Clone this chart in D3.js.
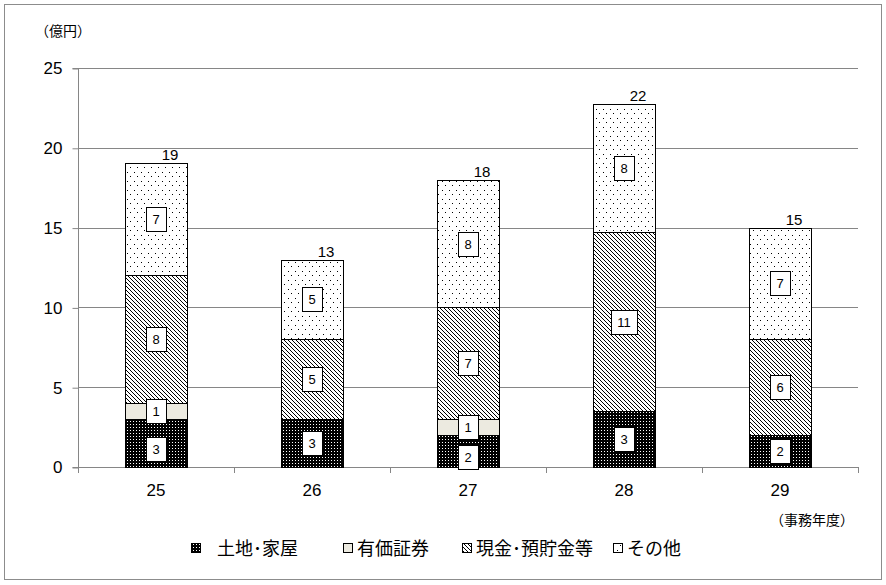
<!DOCTYPE html>
<html><head><meta charset="utf-8">
<script src="https://cdn.jsdelivr.net/npm/d3@7"></script>
<style>
body{margin:0;background:#fff;}
svg{display:block;}
</style></head>
<body>
<svg id="chart" width="886" height="585"></svg>
<script>
const years = ["25","26","27","28","29"];
const land = [3, 3, 2, 3.5, 2];
const securities = [1, 0, 1, 0, 0];
const cash = [8, 5, 7, 11.2, 6];
const other = [7.05, 5, 8, 8.05, 7];
const landLabels = ["3","3","2","3","2"];
const secLabels = ["1","","1","",""];
const cashLabels = ["8","5","7","11","6"];
const otherLabels = ["7","5","8","8","7"];
const totalLabels = ["19","13","18","22","15"];
const yTicks = [0,5,10,15,20,25];
const seriesNames = ["土地･家屋","有価証券","現金･預貯金等","その他"];

const svg = d3.select("#chart");
const numFont = "'Liberation Sans', Arial, sans-serif";
const jpFont = "'Noto Sans CJK JP', sans-serif";

// frame
svg.append("rect").attr("x",4.5).attr("y",4.5).attr("width",877).attr("height",575)
  .attr("fill","#fff").attr("stroke","#8c8c8c").attr("stroke-width",1);

const defs = svg.append("defs");
// land: black with white dots
const pL = defs.append("pattern").attr("id","pLand").attr("patternUnits","userSpaceOnUse")
  .attr("width",3).attr("height",3);
pL.append("rect").attr("width",3).attr("height",3).attr("fill","#000");
pL.append("rect").attr("x",1).attr("y",1).attr("width",1).attr("height",1).attr("fill","#fff");
// cash: pixel diagonal lines (top-left to bottom-right)
const pC = defs.append("pattern").attr("id","pCash").attr("patternUnits","userSpaceOnUse")
  .attr("width",4).attr("height",4);
pC.append("rect").attr("width",4).attr("height",4).attr("fill","#fff");
[0,1,2,3].forEach(k=>pC.append("rect").attr("x",k).attr("y",k).attr("width",1).attr("height",1).attr("fill","#000"));
// other: sparse dots
const pO = defs.append("pattern").attr("id","pOther").attr("patternUnits","userSpaceOnUse")
  .attr("width",7).attr("height",9);
pO.append("rect").attr("width",7).attr("height",9).attr("fill","#fff");
pO.append("rect").attr("x",1).attr("y",1).attr("width",1).attr("height",1).attr("fill","#000");
pO.append("rect").attr("x",4).attr("y",5).attr("width",1).attr("height",1).attr("fill","#000");

const fills = ["url(#pLand)","#ECEAE0","url(#pCash)","url(#pOther)"];

const x0 = 78, x1 = 858, yTop = 68, yBot = 467;
const x = d3.scaleBand().domain(years).range([x0,x1]).paddingInner(0.6).paddingOuter(0.3);
const xb = d3.scaleBand().domain(years).range([x0,x1]);
const y = d3.scaleLinear().domain([0,25]).range([yBot,yTop]);

// gridlines
svg.append("g").selectAll("line").data(yTicks.filter(d=>d>0)).join("line")
  .attr("x1",x0).attr("x2",x1).attr("y1",d=>Math.round(y(d))+0.5).attr("y2",d=>Math.round(y(d))+0.5)
  .attr("stroke","#868686").attr("stroke-width",1);

// y axis
const yAxis = d3.axisLeft(y).tickValues(yTicks).tickSize(6).tickPadding(10);
const gy = svg.append("g").attr("transform",`translate(${x0+0.5},0.5)`).call(yAxis);
gy.select(".domain").attr("stroke","#868686").attr("d",`M-6,${yTop}H0V${yBot}H-6`);
gy.selectAll(".tick line").attr("stroke","#868686");
gy.selectAll(".tick text").attr("font-family",numFont).attr("font-size",17).attr("fill","#000");

// x axis
const xAxis = d3.axisBottom(xb).tickSize(0).tickPadding(16);
const gx = svg.append("g").attr("transform",`translate(0,${yBot+0.5})`).call(xAxis);
gx.select(".domain").attr("stroke","#868686").attr("d",`M${x0},0H${x1}`);
gx.selectAll(".tick text").attr("font-family",numFont).attr("font-size",17).attr("fill","#000");
// category boundary ticks
svg.append("g").selectAll("line").data(years.concat(["end"])).join("line")
  .attr("x1",(d,i)=>Math.round(x0 + i*xb.step())+0.5).attr("x2",(d,i)=>Math.round(x0 + i*xb.step())+0.5)
  .attr("y1",yBot).attr("y2",yBot+6).attr("stroke","#868686");

// stacked data
const rows = years.map((yr,i)=>({year:yr, vals:[land[i],securities[i],cash[i],other[i]],
  labels:[landLabels[i],secLabels[i],cashLabels[i],otherLabels[i]], total: totalLabels[i]}));

const bars = svg.append("g");
rows.forEach(r=>{
  let cum = 0;
  const bx = Math.round(x(r.year))+0.5, bw = Math.round(x.bandwidth());
  r.vals.forEach((v,k)=>{
    if(v<=0){return;}
    const y0 = Math.round(y(cum))+0.5, y1v = Math.round(y(cum+v))+0.5;
    bars.append("rect").attr("x",bx).attr("y",y1v).attr("width",bw).attr("height",y0-y1v)
      .attr("fill",fills[k]).attr("stroke","#000").attr("stroke-width",1);
    cum += v;
  });
});

// labels
const lab = svg.append("g");
rows.forEach(r=>{
  let cum = 0;
  const cx = x(r.year) + x.bandwidth()/2;
  r.vals.forEach((v,k)=>{
    if(v<=0){return;}
    const mid = y(cum + v/2);
    cum += v;
    const t = r.labels[k];
    if(!t) return;
    let cy = mid;
    if(k===0 && r.vals[1]>0) cy = mid + 6;
    const w = t.length>1 ? 26 : 20, h = 24;
    lab.append("rect").attr("x",Math.round(cx-w/2)+0.5).attr("y",Math.round(cy-h/2)+0.5)
      .attr("width",w).attr("height",h).attr("fill","#fff").attr("stroke","#000").attr("stroke-width",1);
    lab.append("text").attr("x",cx).attr("y",cy+5).attr("text-anchor","middle")
      .attr("font-family",numFont).attr("font-size",13).attr("fill","#000").text(t);
  });
  const top = y(cum);
  lab.append("text").attr("x",cx+14).attr("y",top-3).attr("text-anchor","middle")
    .attr("font-family",numFont).attr("font-size",15).attr("fill","#000").text(r.total);
});

// axis titles
svg.append("text").attr("x",35).attr("y",36).attr("font-family",jpFont).attr("font-size",14)
  .attr("fill","#000").text("（億円）");
svg.append("text").attr("x",770).attr("y",525).attr("font-family",jpFont).attr("font-size",14)
  .attr("fill","#000").text("（事務年度）");

// legend
const legX = [191, 343, 462, 613];
const leg = svg.append("g");
seriesNames.forEach((n,i)=>{
  leg.append("rect").attr("x",legX[i]+0.5).attr("y",543.5).attr("width",9).attr("height",9)
    .attr("fill",fills[i]).attr("stroke","#000");
  leg.append("text").attr("x",legX[i] + (i===0?26:14)).attr("y",555).attr("font-family",jpFont)
    .attr("font-size",18).attr("fill","#000").text(n);
});
</script>
</body></html>
